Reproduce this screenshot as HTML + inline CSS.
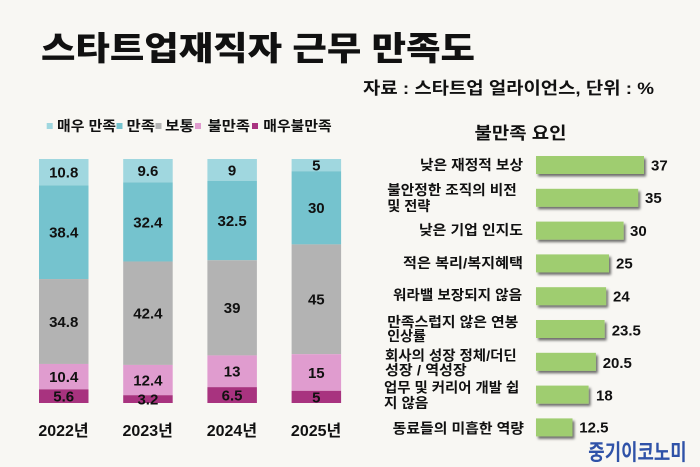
<!DOCTYPE html>
<html><head><meta charset="utf-8"><style>
html,body{margin:0;padding:0;background:#f8f7f3;}
svg{display:block;}
text{font-family:"Liberation Sans","Noto Sans CJK KR","NanumGothic",sans-serif;font-weight:bold;fill:#111;}
</style></head><body>
<svg width="700" height="467" viewBox="0 0 700 467" xmlns="http://www.w3.org/2000/svg">
<defs>
<filter id="sh" x="-10%" y="-30%" width="130%" height="180%">
<feDropShadow dx="2" dy="2.5" stdDeviation="1.3" flood-color="#000" flood-opacity="0.55"/>
</filter>
</defs>
<rect width="700" height="467" fill="#f8f7f3"/>
<text x="41" y="60" font-size="33" textLength="434" lengthAdjust="spacingAndGlyphs" style="font-weight:900">스타트업재직자 근무 만족도</text>
<text x="363" y="94" font-size="17" textLength="291" lengthAdjust="spacingAndGlyphs">자료 : 스타트업 얼라이언스, 단위 : %</text>

<!-- legend -->
<rect x="46.7" y="123" width="6" height="6" fill="#a0d7df"/>
<text x="57" y="131" font-size="14" textLength="59" lengthAdjust="spacingAndGlyphs">매우 만족</text>
<rect x="116.5" y="123" width="6" height="6" fill="#75c3ce"/>
<text x="126.7" y="131" font-size="14" textLength="28.3" lengthAdjust="spacingAndGlyphs">만족</text>
<rect x="155.5" y="123" width="6" height="6" fill="#b3b3b3"/>
<text x="165" y="131" font-size="14" textLength="29" lengthAdjust="spacingAndGlyphs">보통</text>
<rect x="195" y="123" width="6" height="6" fill="#e09ccf"/>
<text x="207.7" y="131" font-size="14" textLength="42.3" lengthAdjust="spacingAndGlyphs">불만족</text>
<rect x="252" y="123" width="6" height="6" fill="#a8337f"/>
<text x="263.3" y="131" font-size="14" textLength="68.4" lengthAdjust="spacingAndGlyphs">매우불만족</text>

<!-- stacked bars -->
<g>
<rect x="39" y="159" width="49.5" height="26.35" fill="#a0d7df"/>
<rect x="39" y="185.35" width="49.5" height="93.7" fill="#75c3ce"/>
<rect x="39" y="279.05" width="49.5" height="84.91" fill="#b3b3b3"/>
<rect x="39" y="363.96" width="49.5" height="25.38" fill="#e09ccf"/>
<rect x="39" y="389.34" width="49.5" height="13.66" fill="#a8337f"/>

<rect x="123.2" y="159" width="49.5" height="23.42" fill="#a0d7df"/>
<rect x="123.2" y="182.42" width="49.5" height="79.06" fill="#75c3ce"/>
<rect x="123.2" y="261.48" width="49.5" height="103.46" fill="#b3b3b3"/>
<rect x="123.2" y="364.94" width="49.5" height="30.26" fill="#e09ccf"/>
<rect x="123.2" y="395.2" width="49.5" height="7.8" fill="#a8337f"/>

<rect x="207.4" y="159" width="49.5" height="21.96" fill="#a0d7df"/>
<rect x="207.4" y="180.96" width="49.5" height="79.3" fill="#75c3ce"/>
<rect x="207.4" y="260.26" width="49.5" height="95.16" fill="#b3b3b3"/>
<rect x="207.4" y="355.42" width="49.5" height="31.72" fill="#e09ccf"/>
<rect x="207.4" y="387.14" width="49.5" height="15.86" fill="#a8337f"/>

<rect x="291.6" y="159" width="49.5" height="12.2" fill="#a0d7df"/>
<rect x="291.6" y="171.2" width="49.5" height="73.2" fill="#75c3ce"/>
<rect x="291.6" y="244.4" width="49.5" height="109.8" fill="#b3b3b3"/>
<rect x="291.6" y="354.2" width="49.5" height="36.6" fill="#e09ccf"/>
<rect x="291.6" y="390.8" width="49.5" height="12.2" fill="#a8337f"/>
</g>
<g font-size="15" text-anchor="middle">
<text x="63.7" y="177.6">10.8</text>
<text x="63.7" y="237.6">38.4</text>
<text x="63.7" y="326.9">34.8</text>
<text x="63.7" y="382">10.4</text>
<text x="63.7" y="401.6">5.6</text>

<text x="147.9" y="176.1">9.6</text>
<text x="147.9" y="227.3">32.4</text>
<text x="147.9" y="318.6">42.4</text>
<text x="147.9" y="385.5">12.4</text>
<text x="147.9" y="404.5">3.2</text>

<text x="232.1" y="175.4">9</text>
<text x="232.1" y="226">32.5</text>
<text x="232.1" y="313.2">39</text>
<text x="232.1" y="376.7">13</text>
<text x="232.1" y="400.5">6.5</text>

<text x="316.3" y="170.5">5</text>
<text x="316.3" y="213.2">30</text>
<text x="316.3" y="304.7">45</text>
<text x="316.3" y="377.9">15</text>
<text x="316.3" y="402.3">5</text>
</g>
<g font-size="16" text-anchor="middle">
<text x="63.5" y="436">2022년</text>
<text x="147.7" y="436">2023년</text>
<text x="231.9" y="436">2024년</text>
<text x="316.1" y="436">2025년</text>
</g>

<!-- right chart -->
<text x="474.5" y="139" font-size="17" textLength="92" lengthAdjust="spacingAndGlyphs">불만족 요인</text>
<g fill="#9fcd70" filter="url(#sh)">
<rect x="536" y="156" width="108" height="18"/>
<rect x="536" y="188.8" width="102.2" height="18"/>
<rect x="536" y="221.6" width="87.6" height="18"/>
<rect x="536" y="254.4" width="73" height="18"/>
<rect x="536" y="287.2" width="70.1" height="18"/>
<rect x="536" y="320" width="68.6" height="18"/>
<rect x="536" y="352.8" width="59.9" height="18"/>
<rect x="536" y="385.6" width="52.6" height="18"/>
<rect x="536" y="418.4" width="36.5" height="18"/>
</g>
<g font-size="15">
<text x="651" y="170.4">37</text>
<text x="645" y="202.8">35</text>
<text x="630" y="236">30</text>
<text x="616" y="268.7">25</text>
<text x="613" y="301.4">24</text>
<text x="611.7" y="335.4">23.5</text>
<text x="602.7" y="368">20.5</text>
<text x="596" y="400.4">18</text>
<text x="579.3" y="432.7">12.5</text>
</g>
<g font-size="14">
<text x="523" y="170.2" text-anchor="end" textLength="103" lengthAdjust="spacingAndGlyphs">낮은 재정적 보상</text>
<text x="387.3" y="195.2" textLength="129.4" lengthAdjust="spacingAndGlyphs">불안정한 조직의 비전</text>
<text x="387.3" y="211.2" textLength="43" lengthAdjust="spacingAndGlyphs">및 전략</text>
<text x="523" y="235.2" text-anchor="end" textLength="104" lengthAdjust="spacingAndGlyphs">낮은 기업 인지도</text>
<text x="523" y="267.9" text-anchor="end" textLength="120" lengthAdjust="spacingAndGlyphs">적은 복리/복지혜택</text>
<text x="522" y="300.2" text-anchor="end" textLength="129" lengthAdjust="spacingAndGlyphs">워라밸 보장되지 않음</text>
<text x="387.3" y="326.9" textLength="131" lengthAdjust="spacingAndGlyphs">만족스럽지 않은 연봉</text>
<text x="387.3" y="341.2">인상률</text>
<text x="385" y="360.7" textLength="131.7" lengthAdjust="spacingAndGlyphs">회사의 성장 정체/더딘</text>
<text x="385" y="375.2" textLength="81.7" lengthAdjust="spacingAndGlyphs">성장 / 역성장</text>
<text x="384" y="392.5" textLength="135.3" lengthAdjust="spacingAndGlyphs">업무 및 커리어 개발 쉽</text>
<text x="384" y="407.9" textLength="44.3" lengthAdjust="spacingAndGlyphs">지 않음</text>
<text x="524" y="433.5" text-anchor="end" textLength="131.3" lengthAdjust="spacingAndGlyphs">동료들의 미흡한 역량</text>
</g>
<text x="588.3" y="460" font-size="22" textLength="98.4" lengthAdjust="spacingAndGlyphs" style="fill:#2f52a8">중기이코노미</text>
</svg>
</body></html>
